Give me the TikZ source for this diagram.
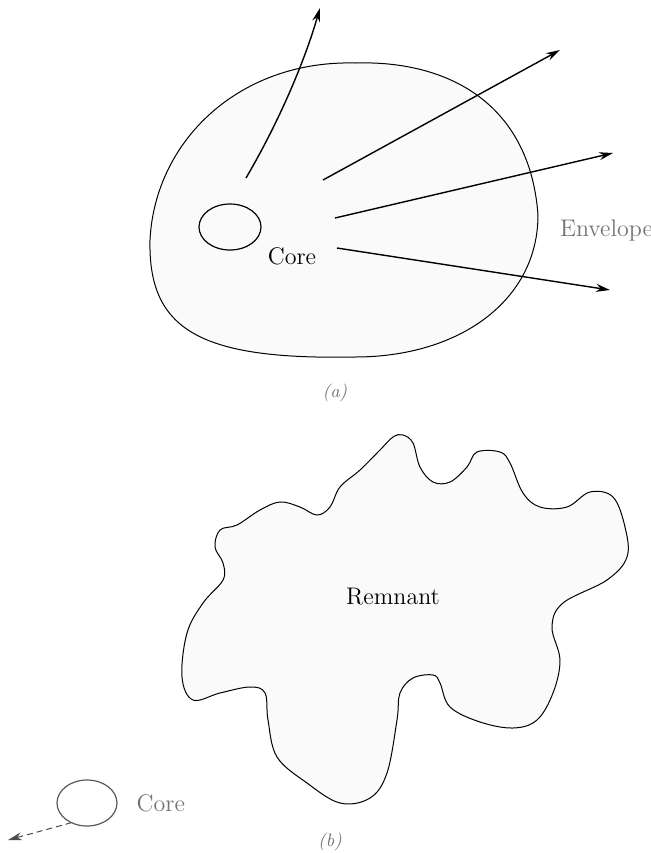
\documentclass[tikz,border=0pt]{standalone}
\usepackage{tikz}
\usetikzlibrary{positioning, arrows.meta, shapes.geometric}

\begin{document}
\begin{tikzpicture}[x=0.5pt, y=-0.5pt,
    blob/.style={draw, line width=0.5pt, fill=black!2},
    corering/.style={draw, ellipse, line width=0.6pt, inner sep=0pt},
    ray/.style={-{Stealth[length=7pt, width=4pt]}, line width=0.7pt},
    lbl/.style={font=\large},
    faint/.style={text=black!55}]
  \useasboundingbox (0,0) rectangle (651,853);

  % (a) star with core and envelope
  \draw[blob] (150,240) .. controls (155,140) and (240,60) .. (355,63)
    .. controls (450,60) and (530,105) .. (538,215)
    .. controls (538,300) and (460,357) .. (355,357)
    .. controls (200,360) and (148,330) .. cycle;
  \node (corea) [corering, minimum width=62pt*0.5, minimum height=46pt*0.5] at (230,227) {};
  \node (corealbl) [lbl] at (292,256) {Core};
  \node (envlbl) [lbl, faint, anchor=west] at (553,230) {Envelope};
  \coordinate (s1) at (246,178);  \coordinate (e1) at (320,8);
  \coordinate (s2) at (323,180);  \coordinate (e2) at (560,50);
  \coordinate (s3) at (335,218);  \coordinate (e3) at (613,153);
  \coordinate (s4) at (337,248);  \coordinate (e4) at (610,290);
  \draw[ray] (s1) .. controls (280,120) and (305,60) .. (e1);
  \draw[ray] (s2) -- (e2);
  \draw[ray] (s3) -- (e3);
  \draw[ray] (s4) -- (e4);
  \node (capa) [faint, font=\small\itshape] at (335,393) {(a)};

  % (b) remnant and escaping core
  \draw[blob] plot[smooth cycle, tension=0.6] coordinates {
    (403,435) (413,443) (420,467) (433,482) (450,482) (467,467) (477,452)
    (500,452) (510,463) (523,493) (540,507) (567,507) (590,492) (613,497)
    (625,527) (627,557) (607,580) (563,603) (552,627) (560,660) (553,693)
    (537,720) (513,728) (480,722) (450,707) (440,683) (433,675) (413,678)
    (400,693) (397,720) (387,773) (370,798) (340,803) (307,783) (277,757)
    (268,720) (265,693) (250,687) (220,693) (193,700) (182,677) (187,633)
    (203,603) (223,580) (223,563) (215,547) (220,530) (237,525) (260,510)
    (280,502) (300,507) (317,515) (330,507) (340,487) (360,470) (380,450)
    (393,437)};
  \node (remlbl) [lbl] at (393,597) {Remnant};
  \node (coreb) [corering, black!65, minimum width=60pt*0.5, minimum height=46pt*0.5] at (87,803) {};
  \node (coreblbl) [lbl, faint, right=6pt of coreb] {Core};
  \coordinate (kick) at (8,840);
  \draw[ray, densely dashed, line width=0.5pt, black!70] (coreb.south west) ++(6,3) -- (kick);
  \node (capb) [faint, font=\small\itshape] at (330,842) {(b)};
\end{tikzpicture}
\end{document}
